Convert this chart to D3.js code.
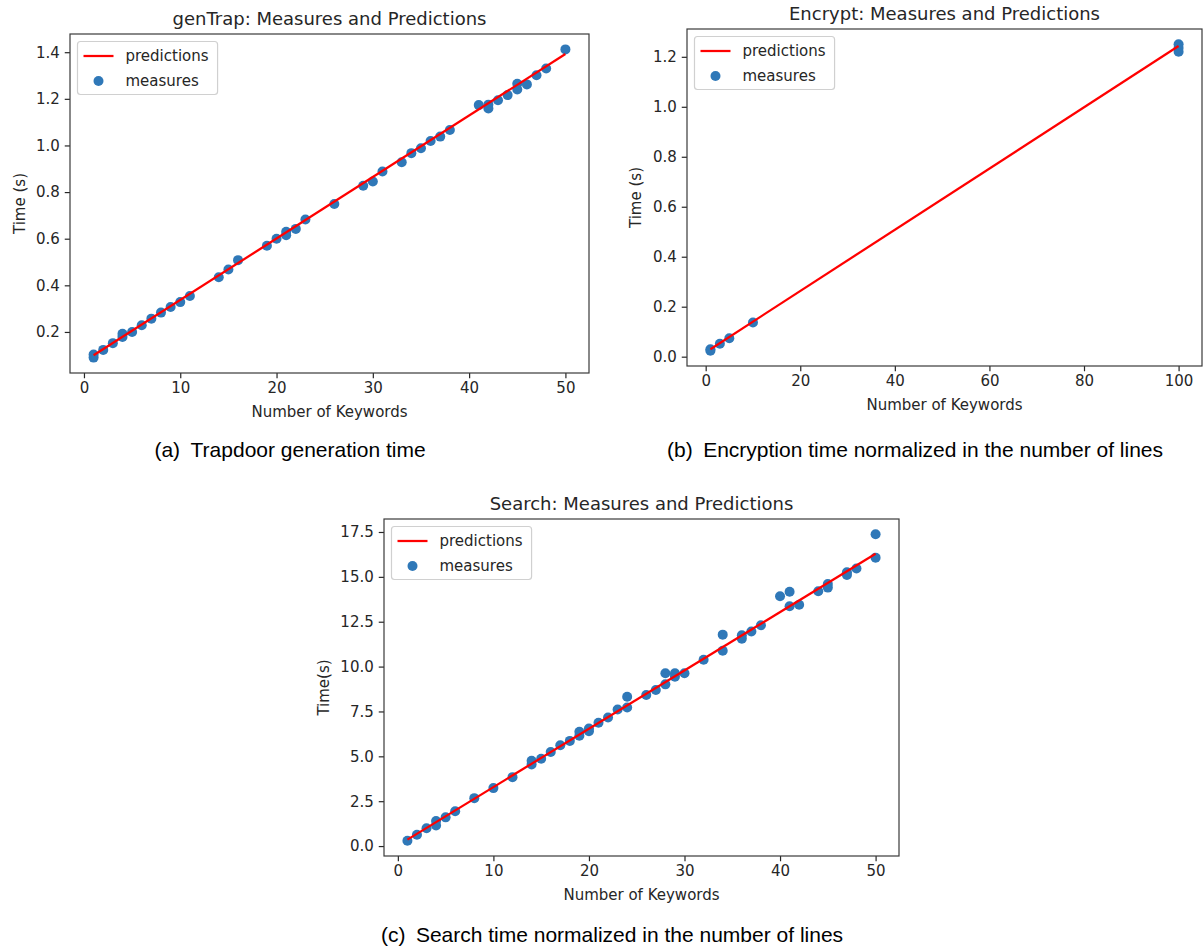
<!DOCTYPE html>
<html>
<head>
<meta charset="utf-8">
<script src="https://cdn.jsdelivr.net/npm/d3@7"></script>
<style>
  body { margin: 0; background: #fff; }
  .tick text { font-family: "DejaVu Sans", sans-serif; font-size: 15px; fill: #262626; }
  .tick line { stroke: #262626; stroke-width: 1.2; }
  .lbl { font-family: "DejaVu Sans", sans-serif; font-size: 15px; fill: #262626; }
  .ttl { font-family: "DejaVu Sans", sans-serif; font-size: 18px; fill: #262626; }
  .cap { font-family: "Liberation Sans", Arial, sans-serif; font-size: 21px; fill: #000; }
</style>
</head>
<body>
<div id="chart"></div>
<script>
// (a) genTrap
var aKeywords = [1, 1, 2, 3, 4, 4, 5, 6, 7, 8, 9, 10, 11, 14, 15, 16, 19, 20, 21, 21, 22, 23, 26, 29, 30, 31, 33, 34, 35, 36, 37, 38, 41, 42, 42, 43, 44, 45, 45, 46, 47, 48, 50];
var aTimes = [0.090, 0.103, 0.123, 0.152, 0.178, 0.192, 0.200, 0.229, 0.257, 0.283, 0.307, 0.328, 0.354, 0.435, 0.468, 0.508, 0.570, 0.600, 0.615, 0.630, 0.642, 0.682, 0.749, 0.827, 0.845, 0.888, 0.928, 0.967, 0.988, 1.019, 1.038, 1.066, 1.173, 1.159, 1.175, 1.194, 1.216, 1.265, 1.240, 1.262, 1.301, 1.330, 1.412];
var aPredX = [1, 50];
var aPredY = [0.100, 1.392];
var aXTicks = [0, 10, 20, 30, 40, 50];
var aYTicks = [0.2, 0.4, 0.6, 0.8, 1.0, 1.2, 1.4];

// (b) Encrypt
var bKeywords = [1, 1, 3, 5, 10, 100, 100, 100];
var bTimes = [0.024, 0.030, 0.052, 0.074, 0.137, 1.220, 1.235, 1.250];
var bPredX = [1, 100];
var bPredY = [0.030, 1.243];
var bXTicks = [0, 20, 40, 60, 80, 100];
var bYTicks = [0.0, 0.2, 0.4, 0.6, 0.8, 1.0, 1.2];

// (c) Search
var cKeywords = [1, 2, 3, 4, 4, 5, 6, 8, 10, 12, 14, 14, 15, 16, 17, 18, 19, 19, 20, 20, 21, 22, 23, 24, 24, 26, 27, 28, 28, 29, 29, 30, 32, 34, 34, 36, 36, 37, 38, 40, 41, 41, 42, 44, 45, 45, 47, 47, 48, 50, 50];
var cTimes = [0.30, 0.63, 0.99, 1.15, 1.40, 1.60, 1.94, 2.67, 3.23, 3.84, 4.55, 4.75, 4.87, 5.24, 5.62, 5.86, 6.15, 6.37, 6.40, 6.55, 6.87, 7.16, 7.61, 7.72, 8.32, 8.42, 8.70, 9.01, 9.63, 9.44, 9.63, 9.63, 10.38, 10.88, 11.78, 11.55, 11.75, 11.96, 12.30, 13.92, 14.17, 13.36, 13.45, 14.20, 14.40, 14.60, 15.10, 15.25, 15.47, 16.07, 17.37];
var cPredX = [1, 50];
var cPredY = [0.36, 16.29];
var cXTicks = [0, 10, 20, 30, 40, 50];
var cYTicks = [0.0, 2.5, 5.0, 7.5, 10.0, 12.5, 15.0, 17.5];

var blue = "#2f78b8", red = "#ff0000";

var svg = d3.select("#chart").append("svg")
  .attr("width", 1203)
  .attr("height", 950);

svg.append("rect").attr("width", 1203).attr("height", 950).attr("fill", "#fff");

// pad the data range by 5% like matplotlib does
function padded(vals) {
  var ext = d3.extent(vals);
  var p = (ext[1] - ext[0]) * 0.05;
  return [ext[0] - p, ext[1] + p];
}

function drawPanel(p) {
  var x = d3.scaleLinear()
    .domain(padded(p.xs.concat(p.px)))
    .range([p.left, p.right]);
  var y = d3.scaleLinear()
    .domain(padded(p.ys.concat(p.py)))
    .range([p.bottom, p.top]);

  var g = svg.append("g");

  g.append("g")
    .attr("transform", "translate(0," + p.bottom + ")")
    .call(d3.axisBottom(x).tickValues(p.xt).tickSize(5.25).tickPadding(4.5).tickSizeOuter(0).tickFormat(d3.format("d")))
    .call(function(s) { s.select(".domain").remove(); });

  g.append("g")
    .attr("transform", "translate(" + p.left + ",0)")
    .call(d3.axisLeft(y).tickValues(p.yt).tickSize(5.25).tickPadding(5).tickSizeOuter(0).tickFormat(d3.format(".1f")))
    .call(function(s) { s.select(".domain").remove(); });

  // measures
  var pts = p.xs.map(function(d, i) { return [d, p.ys[i]]; });
  g.selectAll("circle.m")
    .data(pts)
    .enter()
    .append("circle")
    .attr("class", "m")
    .attr("cx", function(d) { return x(d[0]); })
    .attr("cy", function(d) { return y(d[1]); })
    .attr("r", 5)
    .attr("fill", blue);

  // predictions
  var line = d3.line()
    .x(function(d) { return x(d[0]); })
    .y(function(d) { return y(d[1]); });
  g.append("path")
    .datum(p.px.map(function(d, i) { return [d, p.py[i]]; }))
    .attr("d", line)
    .attr("fill", "none")
    .attr("stroke", red)
    .attr("stroke-width", 2.25);

  // frame
  g.append("rect")
    .attr("x", p.left)
    .attr("y", p.top)
    .attr("width", p.right - p.left)
    .attr("height", p.bottom - p.top)
    .attr("fill", "none")
    .attr("stroke", "#3a3a3a")
    .attr("stroke-width", 1.2);

  // legend
  var lx = p.left + 7.5, ly = p.top + 7.5;
  var leg = g.append("g");
  var box = leg.append("rect")
    .attr("x", lx).attr("y", ly)
    .attr("height", 53)
    .attr("rx", 3)
    .attr("fill", "#fff").attr("fill-opacity", 0.8)
    .attr("stroke", "#d0d0d0").attr("stroke-width", 1.2);
  leg.append("line")
    .attr("x1", lx + 6).attr("x2", lx + 36)
    .attr("y1", ly + 14.5).attr("y2", ly + 14.5)
    .attr("stroke", red).attr("stroke-width", 2.25);
  leg.append("circle")
    .attr("cx", lx + 21).attr("cy", ly + 39.5)
    .attr("r", 5).attr("fill", blue);
  var t1 = leg.append("text").attr("class", "lbl")
    .attr("x", lx + 48).attr("y", ly + 14.5).attr("dy", "0.35em")
    .text("predictions");
  leg.append("text").attr("class", "lbl")
    .attr("x", lx + 48).attr("y", ly + 39.5).attr("dy", "0.35em")
    .text("measures");
  box.attr("width", t1.node().getComputedTextLength() + 57);

  // title and axis labels
  svg.append("text").attr("class", "ttl")
    .attr("x", (p.left + p.right) / 2).attr("y", p.top - 9)
    .attr("text-anchor", "middle")
    .text(p.title);
  svg.append("text").attr("class", "lbl")
    .attr("x", (p.left + p.right) / 2).attr("y", p.bottom + 44)
    .attr("text-anchor", "middle")
    .text("Number of Keywords");
  svg.append("text").attr("class", "lbl")
    .attr("transform", "translate(" + p.ylx + "," + ((p.top + p.bottom) / 2) + ") rotate(-90)")
    .attr("text-anchor", "middle")
    .text(p.ylabel);

  svg.append("text").attr("class", "cap")
    .attr("x", p.capX).attr("y", p.capY)
    .attr("text-anchor", "middle")
    .text(p.caption);
}

drawPanel({
  xs: aKeywords, ys: aTimes, px: aPredX, py: aPredY, xt: aXTicks, yt: aYTicks,
  left: 70, right: 589, top: 34, bottom: 373, ylx: 25,
  title: "genTrap: Measures and Predictions", ylabel: "Time (s)",
  caption: "(a)\u2002Trapdoor generation time", capX: 290, capY: 457
});

drawPanel({
  xs: bKeywords, ys: bTimes, px: bPredX, py: bPredY, xt: bXTicks, yt: bYTicks,
  left: 687, right: 1202, top: 29, bottom: 366, ylx: 641,
  title: "Encrypt: Measures and Predictions", ylabel: "Time (s)",
  caption: "(b)\u2002Encryption time normalized in the number of lines", capX: 915, capY: 457
});

drawPanel({
  xs: cKeywords, ys: cTimes, px: cPredX, py: cPredY, xt: cXTicks, yt: cYTicks,
  left: 384, right: 899, top: 519, bottom: 856, ylx: 329,
  title: "Search: Measures and Predictions", ylabel: "Time(s)",
  caption: "(c)\u2002Search time normalized in the number of lines", capX: 612, capY: 942
});
</script>
</body>
</html>
